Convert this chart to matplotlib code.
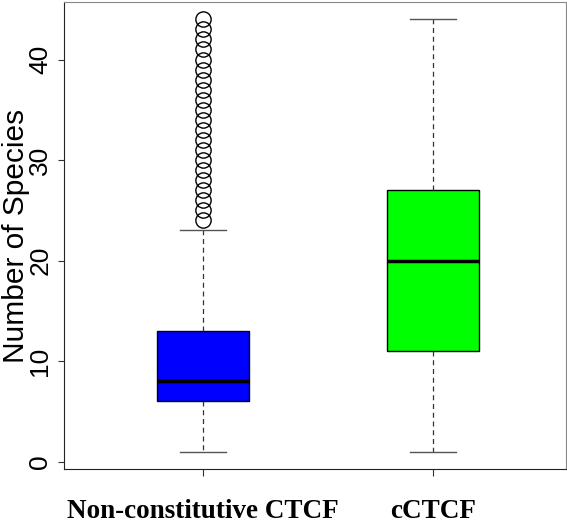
import matplotlib
matplotlib.use("Agg")
import matplotlib.pyplot as plt

# group summaries
groups = ["Non-constitutive CTCF", "cCTCF"]
colors = ["#0000FF", "#00FF00"]
q1 = [6, 11]
medians = [8, 20]
q3 = [13, 27]
whisker_lo = [1, 1]
whisker_hi = [23, 44]
outliers = [list(range(24, 45)), []]

stats = []
for i in range(len(groups)):
    stats.append({
        "label": groups[i],
        "q1": q1[i], "med": medians[i], "q3": q3[i],
        "whislo": whisker_lo[i], "whishi": whisker_hi[i],
        "fliers": outliers[i],
    })

fig = plt.figure(figsize=(5.67, 5.24), dpi=100)
ax = fig.add_axes([64 / 567, 1 - 469 / 524, 502 / 567, 467 / 524])

bp = ax.bxp(stats, positions=[1, 2], widths=0.4, patch_artist=True,
            boxprops=dict(edgecolor="black", linewidth=1.0),
            medianprops=dict(color="black", linewidth=2.5),
            whiskerprops=dict(color="#333333", linestyle=(0, (4, 3)), linewidth=0.9),
            capprops=dict(color="#555555", linewidth=1.0),
            flierprops=dict(marker="o", markerfacecolor="none", markeredgecolor="black",
                            markersize=11, markeredgewidth=1.0))
for patch, c in zip(bp["boxes"], colors):
    patch.set_facecolor(c)
for cap in bp["caps"]:
    x = cap.get_xdata()
    mid = (x[0] + x[1]) / 2
    cap.set_xdata([mid - 0.1, mid + 0.1])

ax.set_xlim(0.397, 2.576)
ax.set_ylim(-0.72, 45.72)
ax.set_yticks([0, 10, 20, 30, 40])
ax.set_yticklabels(["0", "10", "20", "30", "40"], rotation=90, va="center",
                   fontsize=19, family="Liberation Sans")
ax.set_xticks([1, 2])
ax.set_xticklabels(groups, fontsize=19.5, family="Liberation Serif", fontweight="bold")
ax.tick_params(axis="x", length=5, pad=16.5, color="#333333")
ax.tick_params(axis="y", length=4.5, pad=4, color="#333333")
ax.set_ylabel("Number of Species", fontsize=21.5, family="Liberation Sans")
ax.yaxis.set_label_coords(-0.068, 0.5)

for side in ["top", "right"]:
    ax.spines[side].set_color("#888888")
for side in ["left", "bottom"]:
    ax.spines[side].set_color("#222222")

fig.savefig("out.png", dpi=100)
